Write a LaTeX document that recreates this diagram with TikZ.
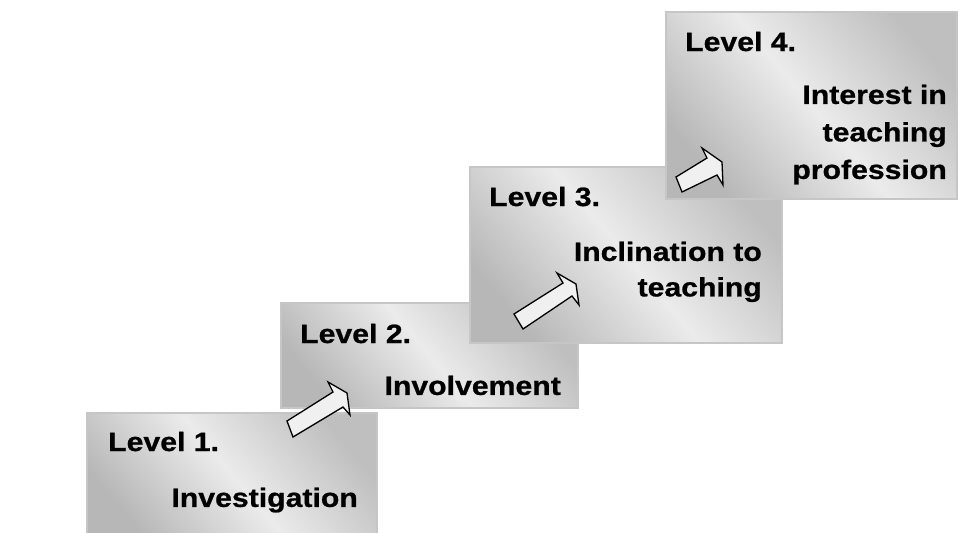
\documentclass[tikz,border=0pt]{standalone}
\usepackage{fontspec}
\newfontfamily\lab[FakeStretch=1.14, BoldFeatures={FakeBold=0.8}]{Liberation Sans}
\definecolor{boxdark}{HTML}{B7B7B7}
\definecolor{boxtop}{HTML}{BFBFBF}
\definecolor{boxlight}{HTML}{EBEBEB}
\definecolor{boxedge}{HTML}{C6C6C6}
\definecolor{arrfill}{HTML}{F0F0F0}
\begin{document}
\begin{tikzpicture}[x=1pt,y=-1pt,
  stepbox/.style={draw=boxedge, line width=2pt, rectangle, inner sep=0pt, outer sep=0pt,
    anchor=north west, shading=axis, bottom color=boxdark, top color=boxtop,
    middle color=boxlight, shading angle=-50},
  levellabel/.style={font=\lab\bfseries\fontsize{26.5}{36}\selectfont, inner sep=0pt, anchor=base west},
  steptext/.style={font=\lab\bfseries\fontsize{26.5}{37.5}\selectfont, inner sep=0pt, anchor=north east, align=right},
  blockarrow/.style={draw=black, line width=1.3pt, line join=miter, fill=arrfill}
]
\useasboundingbox (0,0) rectangle (959,533);
% boxes
\node[stepbox, minimum width=297pt, minimum height=105pt] (b2) at (281,303) {};
\node[stepbox, minimum width=290pt, minimum height=124pt] (b1) at (87,413) {};
\node[stepbox, minimum width=312pt, minimum height=176pt] (b3) at (470,167) {};
\node[stepbox, minimum width=291pt, minimum height=187pt] (b4) at (666,12) {};
% texts
\node[levellabel] (l1) at (108,451) {Level 1.};
\node[steptext] (t1) at (358,487.5) {Investigation};
\node[levellabel] (l2) at (300,343) {Level 2.};
\node[steptext] (t2) at (561,375.5) {Involvement};
\node[levellabel] (l3) at (489,206) {Level 3.};
\node[steptext] (t3) at (762,241.5) {Inclination to\\[-2pt]teaching};
\node[levellabel] (l4) at (685,51) {Level 4.};
\node[steptext] (t4) at (947,84.5) {Interest in\\teaching\\profession};
% arrows
\coordinate (a1) at (287,421);
\coordinate (a2) at (514,314);
\coordinate (a3) at (676,177);
\begin{scope}[shift={(a1)}]
\draw[blockarrow] (0,0) -- (46,-29) -- (41,-39) -- (60,-28) -- (63,-6) -- (56,-14) -- (6,16) -- cycle;
\end{scope}
\begin{scope}[shift={(a2)}]
\draw[blockarrow] (0,0) -- (49,-31) -- (43,-41) -- (62,-30) -- (65,-9) -- (58,-18) -- (9,15) -- cycle;
\end{scope}
\begin{scope}[shift={(a3)}]
\draw[blockarrow] (0,0) -- (31,-19) -- (26,-29) -- (46,-15) -- (47,8) -- (41,-2) -- (6,15) -- cycle;
\end{scope}
\end{tikzpicture}
\end{document}
